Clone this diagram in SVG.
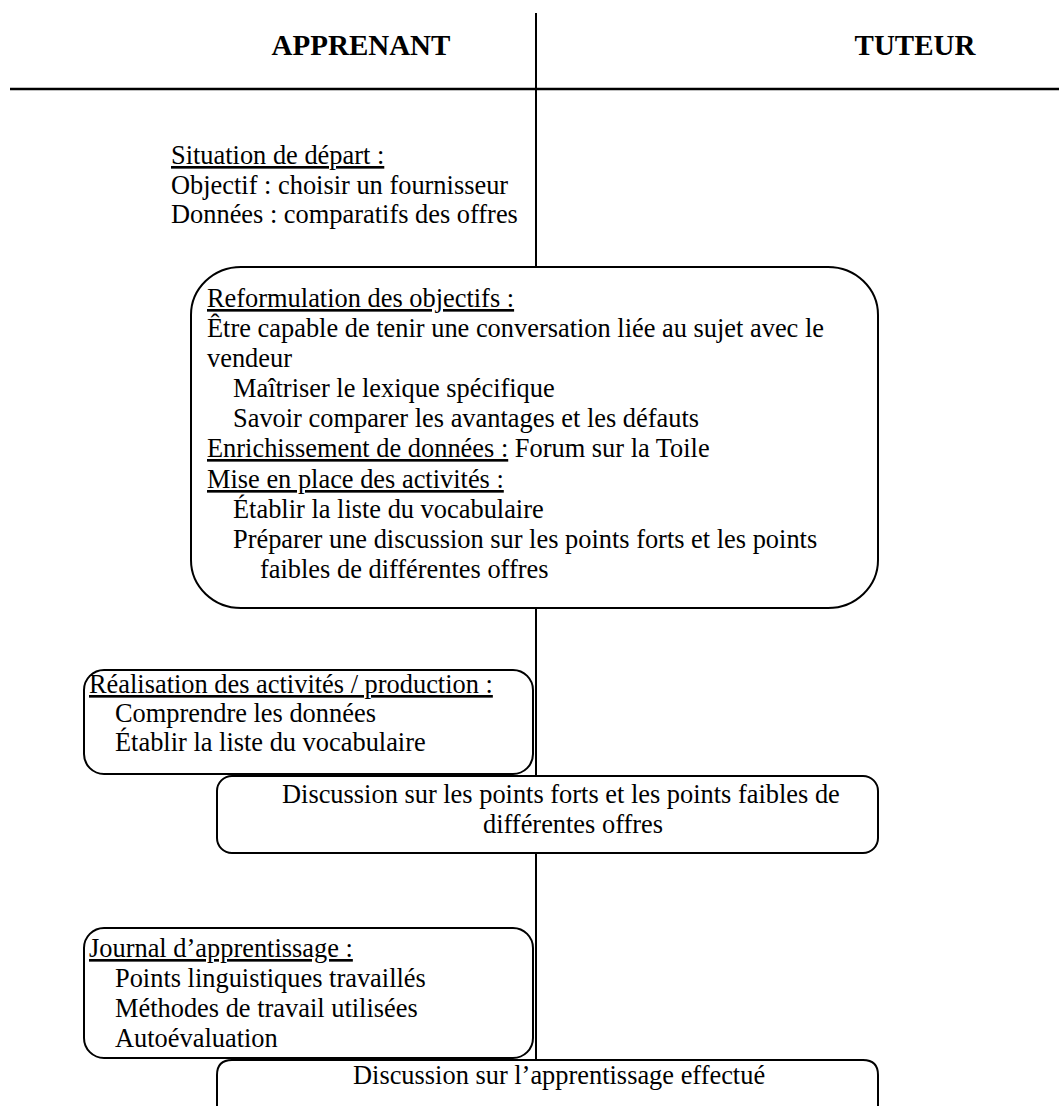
<svg xmlns="http://www.w3.org/2000/svg" width="1059" height="1106" viewBox="0 0 1059 1106">
<style>
text{font-family:"Liberation Serif","Times New Roman",serif;font-size:26.4px;fill:#000}
.h{font-weight:bold;font-size:29px}
.u{text-decoration:underline}
.box{fill:#fff;stroke:#000;stroke-width:2}
.ln{stroke:#000;fill:none}
</style>
<rect width="1059" height="1106" fill="#fff"/>
<g id="connectors">
<line class="ln" x1="536" y1="13" x2="536" y2="1106" stroke-width="2"/>
<line class="ln" x1="10" y1="89" x2="1059" y2="89" stroke-width="2.5"/>
</g>
<g id="header">
<text class="h" x="361" y="55" text-anchor="middle">APPRENANT</text>
<text class="h" x="915" y="55" text-anchor="middle">TUTEUR</text>
</g>
<g id="situation">
<text x="171" y="164"><tspan class="u">Situation de départ :</tspan></text>
<text x="171" y="194">Objectif : choisir un fournisseur</text>
<text x="171" y="223">Données : comparatifs des offres</text>
</g>
<g id="reformulation">
<rect class="box" x="191" y="267" width="687" height="341" rx="50" ry="48"/>
<text x="207" y="307"><tspan class="u">Reformulation des objectifs :</tspan></text>
<text x="207" y="337">Être capable de tenir une conversation liée au sujet avec le</text>
<text x="207" y="367">vendeur</text>
<text x="233" y="397">Maîtriser le lexique spécifique</text>
<text x="233" y="427">Savoir comparer les avantages et les défauts</text>
<text x="207" y="457"><tspan class="u">Enrichissement de données :</tspan> Forum sur la Toile</text>
<text x="207" y="488"><tspan class="u">Mise en place des activités :</tspan></text>
<text x="233" y="518">Établir la liste du vocabulaire</text>
<text x="233" y="548">Préparer une discussion sur les points forts et les points</text>
<text x="260" y="578">faibles de différentes offres</text>
</g>
<g id="realisation">
<rect class="box" x="84" y="670" width="449" height="104" rx="20" ry="20"/>
<text x="89" y="693"><tspan class="u">Réalisation des activités / production :</tspan></text>
<text x="115" y="722">Comprendre les données</text>
<text x="115" y="751">Établir la liste du vocabulaire</text>
</g>
<g id="discussion1">
<rect class="box" x="217" y="776" width="661" height="77" rx="15" ry="15"/>
<text x="282" y="803">Discussion sur les points forts et les points faibles de</text>
<text x="483" y="833">différentes offres</text>
</g>
<g id="journal">
<rect class="box" x="84" y="928" width="449" height="130" rx="20" ry="20"/>
<text x="89" y="957"><tspan class="u">Journal d’apprentissage :</tspan></text>
<text x="115" y="987">Points linguistiques travaillés</text>
<text x="115" y="1017">Méthodes de travail utilisées</text>
<text x="115" y="1047">Autoévaluation</text>
</g>
<g id="discussion2">
<path class="box" d="M217,1120 V1075 Q217,1060 232,1060 H863 Q878,1060 878,1075 V1120"/>
<text x="353" y="1084">Discussion sur l’apprentissage effectué</text>
</g>
</svg>
